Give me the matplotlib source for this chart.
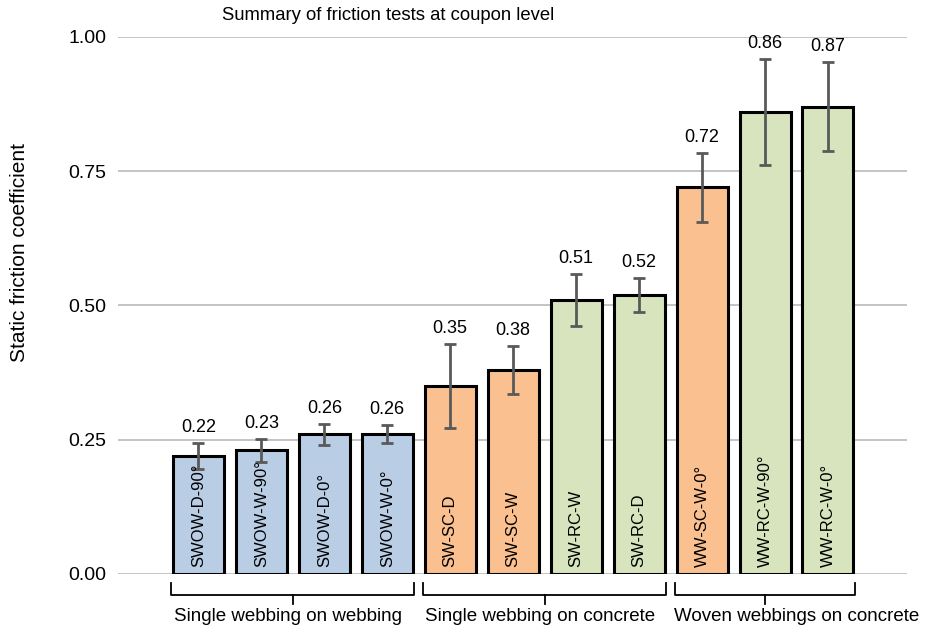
import matplotlib
matplotlib.use("Agg")
import matplotlib.pyplot as plt

plt.rcParams['font.family'] = ['Liberation Sans', 'DejaVu Sans']

# data
names = ["SWOW-D-90°", "SWOW-W-90°", "SWOW-D-0°", "SWOW-W-0°",
         "SW-SC-D", "SW-SC-W", "SW-RC-W", "SW-RC-D",
         "WW-SC-W-0°", "WW-RC-W-90°", "WW-RC-W-0°"]
values = [0.22, 0.23, 0.26, 0.26, 0.35, 0.38, 0.51, 0.52, 0.72, 0.86, 0.87]
errors = [0.024, 0.021, 0.020, 0.017, 0.078, 0.044, 0.049, 0.032, 0.064, 0.099, 0.083]
kinds = ["w", "w", "w", "w", "s", "s", "r", "r", "s", "r", "r"]
groups = ["Single webbing on webbing", "Single webbing on concrete", "Woven webbings on concrete"]
group_span = [(0, 3), (4, 7), (8, 10)]
group_text_x = [1.42, 5.42, 9.5]

colors = {"w": "#B9CDE5", "s": "#FAC090", "r": "#D7E4BD"}

fig = plt.figure(figsize=(9.28, 6.32), dpi=100)
ax = fig.add_axes([0.127, 0.0918, 0.85, 0.8497])

x = list(range(len(values)))
ax.bar(x, values, width=0.81, color=[colors[k] for k in kinds],
       edgecolor="black", linewidth=2.2, zorder=2)
ax.errorbar(x, values, yerr=errors, fmt="none", ecolor="#595959",
            elinewidth=2, capsize=4, capthick=2, zorder=3)

for i in x:
    ax.annotate("%.2f" % values[i], (i, values[i] + errors[i]),
                xytext=(0, 5), textcoords="offset points",
                ha="center", va="bottom", fontsize=13)
    ax.text(i, 0.013, names[i], rotation=90, ha="center", va="bottom",
            fontsize=12)

ax.set_xlim(-1.28, 11.25)
ax.set_ylim(0, 1.0)
ax.set_yticks([0, 0.25, 0.5, 0.75, 1.0])
ax.set_yticklabels(["0.00", "0.25", "0.50", "0.75", "1.00"], fontsize=14)
ax.yaxis.grid(True, color="#BFBFBF", linewidth=1.3, zorder=0)
ax.set_axisbelow(True)
ax.tick_params(axis="y", length=0, pad=8)
ax.set_xticks([])
for s in ax.spines.values():
    s.set_visible(False)

fig.text(20 / 928, 1 - 253 / 632, "Static friction coefficient", rotation=90,
         ha="center", va="center", fontsize=15)
fig.text(0.418, 1 - 15 / 632, "Summary of friction tests at coupon level",
         ha="center", va="center", fontsize=13.3)

# group brackets under the bars
for (a, b), g, tx in zip(group_span, groups, group_text_x):
    left = a - 0.43
    right = b + 0.43
    mid = (left + right) / 2
    ax.plot([left, left, right, right], [-0.017, -0.039, -0.039, -0.017],
            color="black", linewidth=1.3, clip_on=False)
    ax.plot([mid, mid], [-0.039, -0.055], color="black", linewidth=1.3,
            clip_on=False)
    ax.text(tx, -0.08, g, ha="center", va="center", fontsize=13.5)

fig.savefig("out.png", dpi=100)
